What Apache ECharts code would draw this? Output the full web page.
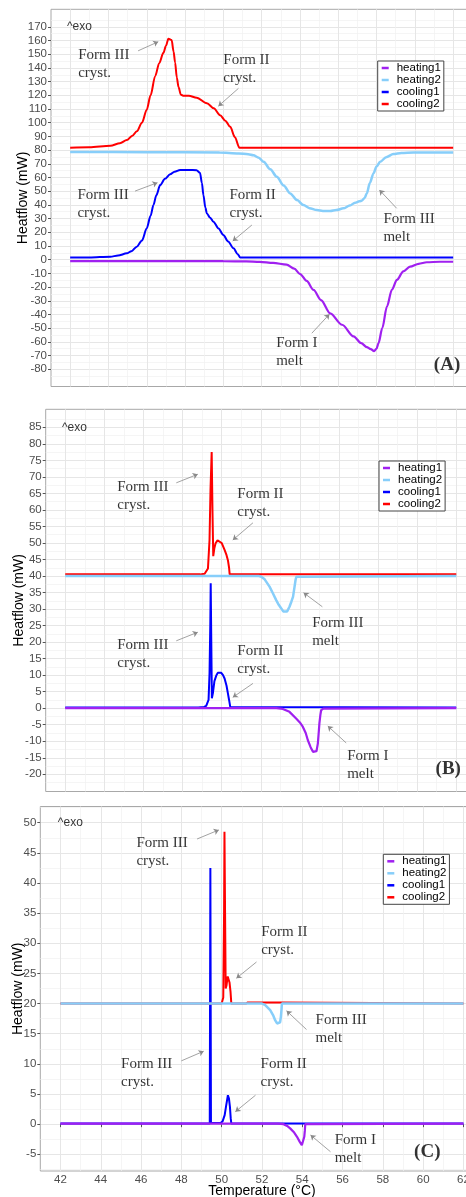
<!DOCTYPE html>
<html><head><meta charset="utf-8">
<script src="https://cdn.jsdelivr.net/npm/echarts@6/dist/echarts.min.js"></script>
<style>html,body{margin:0;padding:0;background:#fff}#c{width:466px;height:1197px}</style>
</head><body><div id="c"></div>
<script>
// ---------- categories / labels ----------
const seriesNames = ['heating1', 'heating2', 'cooling1', 'cooling2'];
const drawOrder = ['cooling1', 'cooling2', 'heating1', 'heating2'];
const seriesColors = { heating1: '#A020F0', heating2: '#87CEFA', cooling1: '#0000FF', cooling2: '#FF0000' };
const xTitle = 'Temperature (°C)';
const yTitle = 'Heatflow (mW)';

// ---------- tick labels ----------
const xTicks = [42, 44, 46, 48, 50, 52, 54, 56, 58, 60, 62];
const xMinor = [43, 45, 47, 49, 51, 53, 55, 57, 59, 61];
const aYTicks = [-80, -70, -60, -50, -40, -30, -20, -10, 0, 10, 20, 30, 40, 50, 60, 70, 80, 90, 100, 110, 120, 130, 140, 150, 160, 170];
const aYMinor = [-85, -75, -65, -55, -45, -35, -25, -15, -5, 5, 15, 25, 35, 45, 55, 65, 75, 85, 95, 105, 115, 125, 135, 145, 155, 165, 175];
const bYTicks = [-20, -15, -10, -5, 0, 5, 10, 15, 20, 25, 30, 35, 40, 45, 50, 55, 60, 65, 70, 75, 80, 85];
const bYMinor = [-22.5, -17.5, -12.5, -7.5, -2.5, 2.5, 7.5, 12.5, 17.5, 22.5, 27.5, 32.5, 37.5, 42.5, 47.5, 52.5, 57.5, 62.5, 67.5, 72.5, 77.5, 82.5, 87.5];
const cYTicks = [-5, 0, 5, 10, 15, 20, 25, 30, 35, 40, 45, 50];
const cYMinor = [-7.5, -2.5, 2.5, 7.5, 12.5, 17.5, 22.5, 27.5, 32.5, 37.5, 42.5, 47.5, 52.5];

// ---------- series values: [temperature °C, heatflow mW] ----------
// Panel A
const A_heating1 = [[42,-1.0],[46,-1.0],[50,-1.1],[51.2,-1.3],[51.9,-1.6],[52.6,-2.4],[53.3,-3.6],[53.7,-6.5],[54.01,-10.5],[54.35,-15.5],[54.71,-22.1],[55.1,-29.5],[55.58,-39.2],[56.2,-47.5],[56.8,-56],[57.2,-61],[57.49,-63.8],[57.7,-65.3],[57.87,-66.8],[58.0,-65],[58.1,-61],[58.3,-50],[58.54,-34.3],[58.8,-22],[59.06,-14.8],[59.4,-8.5],[59.75,-5.1],[60.2,-3],[60.62,-1.9],[61.3,-1.5],[62,-1.5]];
const A_heating2 = [[42,78.6],[46,78.5],[49.8,78.2],[50.8,77.6],[51.3,77.0],[51.57,76.2],[51.85,74.5],[52.1,71.5],[52.45,66],[52.79,60.6],[53.15,54.2],[53.49,48.4],[53.85,43.5],[54.18,39.9],[54.5,37.6],[54.88,36.2],[55.2,35.6],[55.58,35.5],[55.9,36.2],[56.27,37.5],[56.6,39.5],[56.88,41.6],[57.1,42.6],[57.23,43.1],[57.38,45],[57.49,48.4],[57.65,56],[57.84,63],[58.0,68],[58.19,71.5],[58.5,74.8],[58.88,77.1],[59.3,77.9],[59.93,78.3],[62,78.3]];
const A_cooling1 = [[42,1.5],[43,1.6],[44.1,2.2],[44.5,3.0],[44.96,4.6],[45.2,6.2],[45.48,9.5],[45.75,14],[46.0,22.9],[46.2,32],[46.35,39.9],[46.5,47],[46.7,54.5],[46.95,59],[47.22,62.3],[47.45,64.2],[47.74,65.4],[48.2,65.5],[48.6,65.3],[48.78,63.5],[48.88,56],[48.96,47],[49.06,38],[49.14,33.8],[49.3,30.8],[49.48,27.7],[49.75,22.8],[50.0,18],[50.25,13.3],[50.53,8.3],[50.75,4],[50.88,1.6],[62,1.5]];
const A_cooling2 = [[42,81.7],[43,82.0],[44.1,83.2],[44.6,85],[44.96,87.3],[45.25,90.5],[45.48,93.7],[45.75,100],[46.0,109.5],[46.2,120],[46.44,134],[46.65,143.5],[46.87,151],[47.0,156],[47.13,161.3],[47.3,160.3],[47.4,152],[47.48,144],[47.57,133],[47.66,126],[47.78,120.5],[47.9,119.7],[48.2,119.7],[48.61,118.2],[49.14,114.2],[49.5,110.5],[49.83,105.5],[50.1,101.5],[50.36,97],[50.6,89.5],[50.84,81.7],[62,81.7]];
// Panel B
const B_heating1 = [[42,0],[52.8,0],[53.13,-0.2],[53.47,-1.1],[53.81,-3.1],[54.0,-4.3],[54.15,-5.6],[54.3,-7.5],[54.41,-9.7],[54.55,-11.8],[54.67,-13.2],[54.77,-13.7],[54.85,-13.0],[54.92,-10.7],[54.97,-7.0],[55.0,-4.6],[55.05,-2.0],[55.09,-0.6],[55.2,-0.1],[55.3,0],[62,0]];
const B_heating2 = [[42,40.0],[51.9,40.0],[52.03,39.8],[52.2,39.0],[52.45,36.8],[52.62,34.8],[52.79,32.7],[52.92,31.3],[53.05,30.2],[53.15,29.3],[53.24,28.9],[53.35,29.3],[53.47,30.7],[53.57,32.3],[53.65,33.7],[53.73,36.8],[53.78,38.8],[53.82,39.8],[53.9,40.0],[62,40.0]];
const B_cooling1 = [[42,0.2],[48.8,0.2],[49.1,0.4],[49.21,0.7],[49.33,2.5],[49.38,10.5],[49.42,25.7],[49.44,37.8],[49.47,20],[49.5,3.0],[49.55,4.5],[49.63,8.2],[49.72,9.8],[49.8,10.7],[49.89,11.0],[49.98,10.7],[50.07,10.0],[50.15,9.0],[50.25,6.8],[50.32,4.5],[50.38,2.5],[50.44,0.4],[50.5,0.2],[62,0.2]];
const B_cooling2 = [[42,40.5],[48.9,40.5],[49.13,40.7],[49.3,42.3],[49.38,50.9],[49.43,66],[49.49,77.5],[49.53,60],[49.57,46],[49.63,48.5],[49.69,49.9],[49.79,50.8],[49.89,51.1],[50.0,50.0],[50.15,47.9],[50.25,46.3],[50.32,44.8],[50.38,42.5],[50.41,40.5],[62,40.5]];
// Panel C
const C_heating1 = [[42,0.1],[52.8,0.1],[53.07,0.0],[53.25,-0.3],[53.4,-0.7],[53.6,-1.4],[53.74,-2.1],[53.87,-2.9],[53.98,-3.5],[54.05,-3.2],[54.1,-2.1],[54.13,-1.0],[54.15,0.0],[54.2,0.1],[62,0.1]];
const C_heating2 = [[42,20.0],[52.0,20.0],[52.15,19.8],[52.41,18.9],[52.55,18.1],[52.66,17.2],[52.75,16.7],[52.83,16.5],[52.9,16.9],[52.94,17.8],[52.97,19.0],[52.99,20.0],[62,20.0]];
const C_cooling1 = [[42,0.1],[49.41,0.1],[49.44,42.5],[49.47,0.2],[49.95,0.2],[50.05,0.5],[50.15,1.5],[50.22,3.0],[50.31,4.8],[50.36,4.3],[50.41,2.9],[50.45,1.0],[50.48,0.1],[62,0.1]];
const C_cooling2 = [[42,20.0],[50.0,20.0],[50.08,21],[50.12,35],[50.14,48.5],[50.17,35],[50.2,22.5],[50.24,23.0],[50.3,24.5],[50.34,24.7],[50.39,23.5],[50.44,22.0],[50.48,20.0],[51.2,20.0],[51.3,20.2],[52.98,20.2],[53.05,20.0],[62,20.0]];

// ---------- annotations (anchor in data coords) ----------
const A_notes = [['^exo',41.83,169.8],['Form III\ncryst.',42.42,142.9],['Form II\ncryst.',50.0,139.5],['Form III\ncryst.',42.38,40.8],['Form II\ncryst.',50.32,40.5],['Form III\nmelt',58.36,22.9],['Form I\nmelt',52.76,-67.5],['(A)',62.37,-76.8]];
const B_notes = [['^exo',41.83,85],['Form III\ncryst.',44.66,64.15],['Form II\ncryst.',50.8,62.2],['Form III\nmelt',54.63,22.9],['Form III\ncryst.',44.66,16.5],['Form II\ncryst.',50.8,14.5],['Form I\nmelt',56.42,-17.3],['(B)',62.24,-18.5]];
const C_notes = [['^exo',41.87,50],['Form III\ncryst.',45.77,45.2],['Form II\ncryst.',51.96,30.3],['Form III\nmelt',54.66,15.8],['Form III\ncryst.',45.01,8.4],['Form II\ncryst.',51.93,8.4],['Form I\nmelt',55.61,-4.2],['(C)',60.86,-4.57]];
const A_arrows = [[[45.55,152.5],[46.6,159.1]],[[50.79,125.1],[49.74,112.1]],[[45.39,50.1],[46.56,56.2]],[[51.49,25.3],[50.49,13.6]],[[59.05,37.5],[58.15,50.9]],[[54.62,-53.7],[55.54,-39.8]]];
const B_arrows = [[[47.68,68.2],[48.78,70.8]],[[51.6,56.1],[50.57,50.9]],[[55.15,30.7],[54.19,34.94]],[[47.68,20.4],[48.78,23.0]],[[51.6,7.5],[50.57,3.3]],[[56.37,-10.5],[55.43,-5.4]]];
const C_arrows = [[[48.78,47.3],[49.86,48.8]],[[51.73,26.9],[50.73,24.2]],[[54.21,15.7],[53.22,18.8]],[[48.0,10.5],[49.11,12.1]],[[51.68,4.8],[50.68,2.07]],[[55.4,-4.57],[54.41,-1.8]]];

// ---------- layout ----------
const panels = [
  { grid:{left:51, top:9.3, width:421.3, height:377.2}, yMin:-92.6, yMax:182.8, yTicks:aYTicks, yMinor:aYMinor, nameGap:21, showX:false,
    data:{heating1:A_heating1, heating2:A_heating2, cooling1:A_cooling1, cooling2:A_cooling2}, notes:A_notes, arrows:A_arrows, smooth:0.3,
    legend:{left:377.7, top:61} },
  { grid:{left:45.7, top:409.3, width:430.1, height:382.2}, yMin:-25.2, yMax:90.45, yTicks:bYTicks, yMinor:bYMinor, nameGap:19.7, showX:false,
    data:{heating1:B_heating1, heating2:B_heating2, cooling1:B_cooling1, cooling2:B_cooling2}, notes:B_notes, arrows:B_arrows, smooth:false,
    legend:{left:379, top:461} },
  { grid:{left:40.3, top:806.5, width:443.3, height:364.5}, yMin:-7.77, yMax:52.69, yTicks:cYTicks, yMinor:cYMinor, nameGap:15.3, showX:true,
    data:{heating1:C_heating1, heating2:C_heating2, cooling1:C_cooling1, cooling2:C_cooling2}, notes:C_notes, arrows:C_arrows, smooth:false,
    legend:{left:383.3, top:854.3} }
];

const SANS = 'Liberation Sans, Arial, sans-serif';
const SERIF = 'Liberation Serif, Times New Roman, serif';
const lineWidths = { heating1: 2.2, heating2: 2.5, cooling1: 2, cooling2: 2 };
const grids = [], xAxes = [], yAxes = [], series = [], legends = [];

panels.forEach((p, i) => {
  grids.push(Object.assign({ show:true, borderColor:'#a8a8a8', borderWidth:1, backgroundColor:'transparent',
    containLabel:false, outerBoundsMode:'none' }, p.grid));
  // major x
  xAxes.push({ type:'value', gridIndex:i, min:41, max:63,
    name: p.showX ? xTitle : '', nameLocation:'middle', nameGap:13, nameMoveOverlap:false,
    nameTextStyle:{ fontFamily:SANS, fontSize:14, color:'#000' },
    axisLine:{show:false},
    axisTick:{ show:p.showX, length:3, lineStyle:{color:'#555'}, customValues:xTicks },
    axisLabel:{ show:p.showX, customValues:xTicks, margin:3, fontFamily:SANS, fontSize:11.5, color:'#4d4d4d' },
    splitLine:{ show:true, lineStyle:{color:'#e6e6e6', width:1} } });
  // minor x
  xAxes.push({ type:'value', gridIndex:i, min:41, max:63, position:'bottom',
    axisLine:{show:false}, axisLabel:{show:false},
    axisTick:{ show:false, customValues:xMinor },
    splitLine:{ show:true, lineStyle:{color:'#f1f1f1', width:0.7} } });
  // major y
  yAxes.push({ type:'value', gridIndex:i, min:p.yMin, max:p.yMax,
    name:yTitle, nameLocation:'middle', nameGap:p.nameGap, nameMoveOverlap:false,
    nameTextStyle:{ fontFamily:SANS, fontSize:14, color:'#000' },
    axisLine:{show:false},
    axisTick:{ show:true, length:3, lineStyle:{color:'#555'}, customValues:p.yTicks },
    axisLabel:{ customValues:p.yTicks, margin:4, fontFamily:SANS, fontSize:11.5, color:'#4d4d4d' },
    splitLine:{ show:true, lineStyle:{color:'#e6e6e6', width:1} } });
  // minor y
  yAxes.push({ type:'value', gridIndex:i, min:p.yMin, max:p.yMax, position:'left',
    axisLine:{show:false}, axisLabel:{show:false},
    axisTick:{ show:false, customValues:p.yMinor },
    splitLine:{ show:true, lineStyle:{color:'#f1f1f1', width:0.7} } });

  drawOrder.forEach(name => {
    series.push({ name, type:'line', xAxisIndex:2*i, yAxisIndex:2*i, data:p.data[name],
      showSymbol:false, symbol:'none', smooth:p.smooth, smoothMonotone:'x',
      color:seriesColors[name], lineStyle:{ width:lineWidths[name], color:seriesColors[name] }, animation:false, silent:true });
  });

  const noteData = p.notes.map(n => {
    const isTag = n[0].startsWith('(');
    const isExo = n[0] === '^exo';
    return { name:n[0], value:[n[1], n[2]],
      label: isTag ? { align:'right', fontFamily:SERIF, fontWeight:'bold', fontSize:19, lineHeight:20 }
           : isExo ? { align:'left', fontFamily:SANS, fontSize:12, lineHeight:14 }
           : {} };
  });
  series.push({ name:'notes' + i, type:'scatter', xAxisIndex:2*i, yAxisIndex:2*i, data:noteData,
    symbolSize:1, itemStyle:{ color:'rgba(0,0,0,0)' }, silent:true, animation:false,
    label:{ show:true, position:[0.5,0.5], align:'left', verticalAlign:'middle', formatter:'{b}',
      fontFamily:SERIF, fontSize:15, lineHeight:18, color:'#000' },
    markLine:{ silent:true, animation:false, symbol:['none','arrow'], symbolSize:5,
      lineStyle:{ color:'#8a8a8a', width:0.8, type:'solid' }, label:{show:false},
      data: p.arrows.map(a => [{ coord:a[0] }, { coord:a[1] }]) } });

  legends.push({ data:seriesNames, orient:'vertical', left:p.legend.left, top:p.legend.top,
    icon:'rect', itemWidth:7, itemHeight:2.5, itemGap:0, padding:[1,3,1,4],
    borderColor:'#444', borderWidth:1, backgroundColor:'#fff',
    textStyle:{ fontFamily:SANS, fontSize:11.5, lineHeight:11.7, color:'#000', padding:[0,0,0,3] },
    selectedMode:false });
});

const chart = echarts.init(document.getElementById('c'), null, { renderer:'canvas' });
chart.setOption({ animation:false, backgroundColor:'#fff', grid:grids, xAxis:xAxes, yAxis:yAxes, series, legend:legends });
</script></body></html>
